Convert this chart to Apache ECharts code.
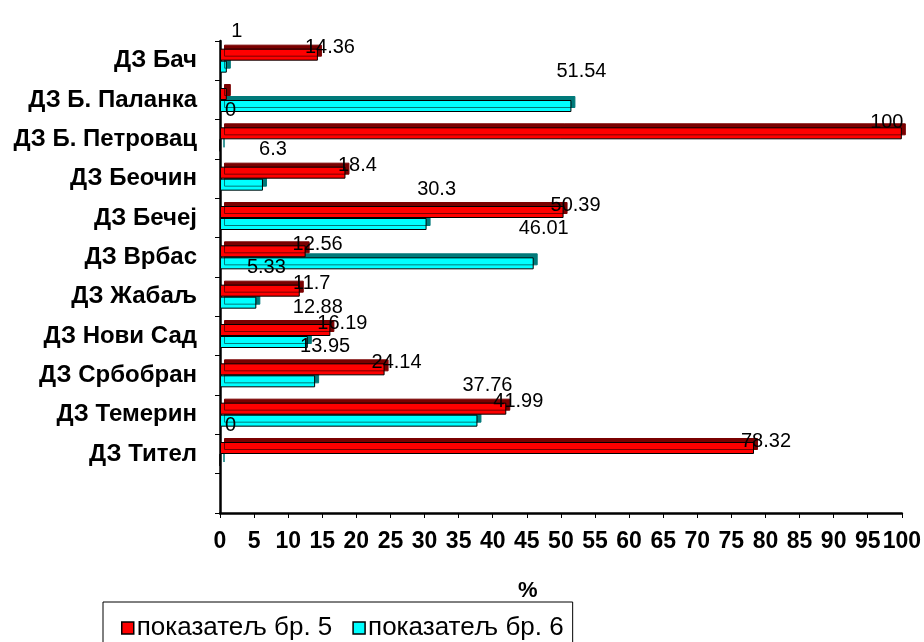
<!DOCTYPE html>
<html>
<head>
<meta charset="utf-8">
<script src="https://cdn.jsdelivr.net/npm/echarts@6/dist/echarts.min.js"></script>
<style>
html,body{margin:0;padding:0;background:#fff;}
#chart{width:924px;height:642px;}
</style>
</head>
<body>
<div id="chart"></div>
<script>
// ---- data ----
const categories = ['ДЗ Бач','ДЗ Б. Паланка','ДЗ Б. Петровац','ДЗ Беочин','ДЗ Бечеј','ДЗ Врбас','ДЗ Жабаљ','ДЗ Нови Сад','ДЗ Србобран','ДЗ Темерин','ДЗ Тител',''];
const seriesNames = ['показатељ бр. 5','показатељ бр. 6'];
const indicator5 = [14.36, 1, 100, 18.4, 50.39, 12.56, 11.7, 16.19, 24.14, 41.99, 78.32];
const indicator6 = [1, 51.54, 0, 6.3, 30.3, 46.01, 5.33, 12.88, 13.95, 37.76, 0];
const hiddenLabels5 = [1]; // label not visible in the reference
const axisMin = 0, axisMax = 100, axisStep = 5;
const axisTitle = '%';

const FONT = '"Liberation Sans", Arial, sans-serif';

function buildData(values, hidden, baseOffset) {
  return values.map((v, i) => {
    const item = { value: v };
    if (hidden.indexOf(i) >= 0) {
      item.label = { show: false };
    } else if (v >= axisMax - 3) {
      item.label = { offset: [-15, baseOffset[1] - 4] };
    }
    return item;
  });
}

const chart = echarts.init(document.getElementById('chart'), null, {renderer: 'canvas'});
const option = {
  backgroundColor: '#ffffff',
  animation: false,
  textStyle: { fontFamily: FONT },
  title: {
    text: axisTitle,
    left: 513, top: 575,
    textStyle: { fontFamily: FONT, fontSize: 22, fontWeight: 'bold', color: '#000' }
  },
  legend: {
    data: seriesNames,
    left: 103, top: 602,
    orient: 'horizontal',
    borderColor: '#000', borderWidth: 1,
    padding: [13, 9, 13, 18],
    itemGap: 20,
    itemWidth: 12, itemHeight: 12,
    icon: 'rect',
    itemStyle: { borderColor: '#000', borderWidth: 1.5, shadowBlur: 0, shadowOffsetX: 0, shadowOffsetY: 0, shadowColor: 'rgba(0,0,0,0)' },
    textStyle: { fontFamily: FONT, fontSize: 26, color: '#000', padding: [0,0,0,-2] }
  },
  grid: { left: 220, right: 21, top: 41, bottom: 129, containLabel: false },
  xAxis: {
    type: 'value',
    min: axisMin, max: axisMax, interval: axisStep,
    axisLine: { show: true, lineStyle: { color: '#000', width: 2.5 } },
    axisTick: { show: true, length: 5, lineStyle: { color: '#000', width: 1 } },
    axisLabel: { margin: 17, fontFamily: FONT, fontSize: 23, fontWeight: 'bold', color: '#000' },
    splitLine: { show: false }
  },
  yAxis: {
    type: 'category',
    data: categories,
    inverse: true,
    axisLine: { show: true, lineStyle: { color: '#000', width: 2.5 } },
    axisTick: { show: true, length: 5, lineStyle: { color: '#000', width: 1 } },
    axisLabel: { margin: 23, fontFamily: FONT, fontSize: 24, fontWeight: 'bold', color: '#000', padding: [5,0,0,0] },
    splitLine: { show: false }
  },
  series: [
    {
      name: seriesNames[0],
      type: 'bar',
      z: 3,
      barWidth: 12,
      barGap: '0%',
      data: buildData(indicator5, hiddenLabels5, [12, -7]),
      itemStyle: {
        color: '#ff0000', borderColor: '#000', borderWidth: 1,
        shadowColor: '#7a0000', shadowBlur: 0, shadowOffsetX: 4, shadowOffsetY: -4
      },
      label: {
        show: true, position: ['100%', '50%'], align: 'center', verticalAlign: 'middle',
        offset: [12, -7],
        fontFamily: FONT, fontSize: 20, color: '#000',
        formatter: p => String(p.value)
      }
    },
    {
      name: seriesNames[1],
      type: 'bar',
      z: 2,
      barWidth: 12,
      barGap: '0%',
      data: buildData(indicator6, [], [10, -35]),
      itemStyle: {
        color: '#00ffff', borderColor: '#000', borderWidth: 1,
        shadowColor: '#007a7a', shadowBlur: 0, shadowOffsetX: 4, shadowOffsetY: -4
      },
      label: {
        show: true, position: ['100%', '50%'], align: 'center', verticalAlign: 'middle',
        offset: [10, -35],
        fontFamily: FONT, fontSize: 20, color: '#000',
        formatter: p => String(p.value)
      }
    }
  ]
};
chart.setOption(option);
</script>
</body>
</html>
